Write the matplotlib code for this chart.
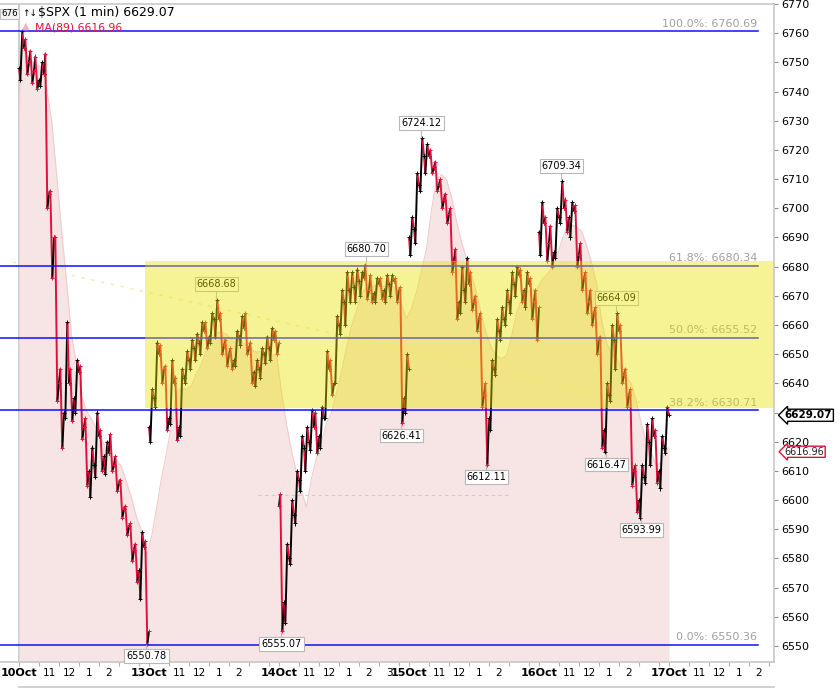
import numpy as np
import pandas as pd
import matplotlib
matplotlib.use("Agg")
import matplotlib.pyplot as plt
import matplotlib.transforms as mtransforms
from matplotlib.collections import LineCollection
from matplotlib.patches import Rectangle
from matplotlib.lines import Line2D

# ---------------- data ----------------
symbol = "$SPX (1 min)"
days = ["10Oct", "13Oct", "14Oct", "15Oct", "16Oct", "17Oct"]
hour_labels = ["11", "12", "1", "2"]
day_open = [6748, 6625, 6598, 6690, 6692]

# 15-minute OHLC summaries of the 1-minute bars, one list per session
high_d0 = [6760.69, 6758, 6754, 6752, 6750, 6753, 6706, 6690, 6645, 6661, 6645, 6648, 6646,
           6628, 6618, 6630, 6624, 6620, 6622.6, 6615, 6607, 6598, 6592, 6585, 6589, 6586]
low_d0 = [6744, 6746, 6743, 6741, 6742, 6700, 6676, 6634, 6617.8, 6628, 6627, 6630, 6621,
          6605, 6601, 6608, 6610, 6609, 6610, 6603, 6594, 6588, 6579, 6572, 6566, 6550.78]
close_d0 = [6755, 6750, 6747, 6744, 6746, 6705, 6690, 6640, 6630, 6640, 6635, 6644, 6625,
            6610, 6612, 6622, 6615, 6616, 6612, 6606, 6597, 6591, 6583, 6576, 6584, 6555]

high_d1 = [6638, 6654, 6653, 6646, 6648, 6642, 6645, 6651, 6655, 6657, 6661, 6661, 6664,
           6668.68, 6664, 6655, 6652, 6658, 6663, 6664, 6654, 6648, 6652, 6656, 6659, 6658]
low_d1 = [6620, 6632, 6640, 6624, 6626, 6620.5, 6622, 6640, 6645, 6648, 6650, 6652, 6654,
          6656, 6650, 6646, 6645, 6646, 6653, 6650, 6640, 6639, 6642, 6647, 6648, 6650]
close_d1 = [6635, 6650, 6645, 6628, 6640, 6625, 6642, 6648, 6652, 6654, 6658, 6656, 6662,
            6662, 6653, 6650, 6648, 6656, 6659, 6652, 6644, 6645, 6650, 6652, 6655, 6654]

high_d2 = [6602, 6585, 6600, 6610, 6622, 6625, 6631, 6630, 6632, 6651, 6648, 6663, 6672,
           6678, 6678, 6679, 6678, 6680.70, 6677, 6676, 6676, 6677, 6677, 6676, 6673, 6650]
low_d2 = [6555.07, 6558, 6578, 6592, 6603, 6610, 6617, 6616, 6618, 6628, 6636, 6640, 6657,
          6660, 6668, 6668, 6670, 6669, 6668, 6668, 6669, 6668, 6670, 6668, 6626.41, 6630]
close_d2 = [6565, 6580, 6595, 6607, 6618, 6620, 6625, 6622, 6628, 6645, 6640, 6660, 6668,
            6672, 6673, 6675, 6676, 6672, 6671, 6674, 6672, 6674, 6675, 6672, 6635, 6645]

high_d3 = [6697, 6712, 6724.12, 6722, 6720, 6716, 6710, 6705, 6700, 6686, 6680, 6683, 6678,
           6670, 6664, 6640, 6648, 6662, 6666, 6672, 6678, 6680, 6679, 6678, 6676, 6672]
low_d3 = [6684, 6688, 6706, 6712, 6712, 6706, 6700, 6695, 6678, 6662, 6664, 6668, 6665,
          6658, 6632, 6612.11, 6624, 6643, 6655, 6660, 6664, 6670, 6668, 6666, 6662, 6655]
close_d3 = [6693, 6708, 6718, 6718, 6714, 6708, 6703, 6698, 6682, 6668, 6672, 6674, 6668,
            6662, 6636, 6628, 6645, 6658, 6662, 6668, 6674, 6677, 6672, 6674, 6668, 6666]

high_d4 = [6702, 6697, 6694, 6700, 6709.34, 6703, 6702, 6701, 6688, 6678, 6672, 6666, 6656,
           6640, 6660, 6664.09, 6660, 6645, 6638, 6612, 6612, 6626, 6628, 6624, 6622, 6632]
low_d4 = [6684, 6682, 6680, 6683, 6695, 6692, 6690, 6680, 6672, 6664, 6660, 6650, 6618,
          6616.47, 6634, 6645, 6640, 6632, 6605, 6596, 6593.99, 6606, 6612, 6606, 6604, 6616]
close_d4 = [6695, 6688, 6685, 6697, 6700, 6697, 6699, 6684, 6676, 6668, 6664, 6655, 6624,
            6636, 6655, 6658, 6643, 6636, 6610, 6600, 6608, 6620, 6622, 6610, 6618, 6629.07]

fib_pct = ["100.0%", "61.8%", "50.0%", "38.2%", "0.0%"]
fib_val = [6760.69, 6680.34, 6655.52, 6630.71, 6550.36]
zone_low, zone_high = 6631.5, 6682.0
trend_start, trend_end = 6681.5, 6633.6
dash_level = 6601.7
last_price = 6629.07
ma_period = 89
ma_last = 6616.96
swing_vals = [6550.78, 6555.07, 6626.41, 6612.11, 6616.47, 6593.99,
              6668.68, 6680.70, 6724.12, 6709.34, 6664.09]
swing_kind = ["L", "L", "L", "L", "L", "L", "H", "H", "H", "H", "H"]
y_ticks = list(range(6550, 6771, 10))

# ---------------- assemble ----------------
highs = [high_d0, high_d1, high_d2, high_d3, high_d4]
lows = [low_d0, low_d1, low_d2, low_d3, low_d4]
closes = [close_d0, close_d1, close_d2, close_d3, close_d4]
DAY = 390
BAR = 15

RED = "#e0103c"
BLACK = "#000000"

W, H = 840, 691
fig = plt.figure(figsize=(W / 100, H / 100), dpi=100)
ax = fig.add_axes([0, 29 / H, 774 / W, (662 - 4) / H])
X0, X1 = -57, 2265
Y0, Y1 = 6544.52, 6769.93
ax.set_xlim(X0, X1)
ax.set_ylim(Y0, Y1)

def P(x, y):
    return x / W, 1 - y / H

# price bars
segs, cols, vx, vy, vc = [], [], [], [], []
bar_x, bar_c, bar_h, bar_l = [], [], [], []
for d in range(5):
    o = day_open[d]
    for i, (h, l, c) in enumerate(zip(highs[d], lows[d], closes[d])):
        m0 = d * DAY + i * BAR
        if c >= o:
            pts = [(m0, o), (m0 + 4, l), (m0 + 10, h), (m0 + 15, c)]
        else:
            pts = [(m0, o), (m0 + 4, h), (m0 + 10, l), (m0 + 15, c)]
        for a, b in zip(pts[:-1], pts[1:]):
            segs.append([a, b])
            cols.append(BLACK if b[1] >= a[1] else RED)
        for p in pts:
            vx.append(p[0]); vy.append(p[1])
            vc.append(BLACK if c >= o else RED)
        bar_x.append(m0 + 7.5); bar_c.append(c); bar_h.append(h); bar_l.append(l)
        o = c
bar_x = np.array(bar_x); bar_h = np.array(bar_h); bar_l = np.array(bar_l)

# moving average (period 89 minutes ~ 6 fifteen-minute bars)
ma = pd.Series(bar_c).rolling(round(ma_period / BAR), min_periods=1).mean().values
ma_x = np.concatenate([[0], bar_x, [bar_x[-1] + 7.5]])
ma_y = np.concatenate([[ma[0] - 25], ma, [ma[-1]]])
ax.fill_between(ma_x, Y0, ma_y, color="#f7e4e4", lw=0, zorder=1)
ax.plot(ma_x, ma_y, color="#f2cccc", lw=0.8, zorder=1.2)

# helper guides
ax.plot([(258 - 19) * 3, (510 - 19) * 3], [dash_level, dash_level], color="#d9c6c6",
        lw=0.8, ls=(0, (3, 3)), zorder=1.5)
ax.plot([-18, 1863], [trend_start, trend_end], color="#f3f0b8", lw=1.2,
        ls=(0, (2, 4)), zorder=1.5)

ax.add_collection(LineCollection(segs, colors=cols, linewidths=1.4, zorder=3))
ax.scatter(vx, vy, marker="+", s=9, c=vc, linewidths=0.7, zorder=3)

# fib levels
for pct, v in zip(fib_pct, fib_val):
    ax.plot([X0, 2217], [v, v], color="#1010ff", lw=1.1, zorder=4)
    ax.text(2214, v + 0.9, f"{pct}: {v:.2f}", ha="right", va="bottom", fontsize=8,
            color="#a0a0a0", zorder=4)

# swing labels
for v, k in zip(swing_vals, swing_kind):
    arr = bar_h if k == "H" else bar_l
    j = int(np.argmin(np.abs(arr - v)))
    off = 11 if k == "H" else -9
    ax.annotate(f"{v:.2f}", xy=(bar_x[j], v), xytext=(0, off), textcoords="offset points",
                ha="center", va="center", fontsize=7, color="black", zorder=4.5,
                bbox=dict(boxstyle="square,pad=0.2", fc="white", ec="#b8b8b8", lw=0.8),
                arrowprops=dict(arrowstyle="-", color="#b8b8b8", lw=0.8, shrinkA=0, shrinkB=1))

# yellow zone on top
ax.add_patch(Rectangle((378, zone_low), X1 - 378, zone_high - zone_low, facecolor="#e8e400",
                       alpha=0.42, lw=0, zorder=5))

# left session line
ax.axvline(0, color="#c4c4c4", lw=1.2, zorder=0.5)

# axes styling
for s in ["top", "right", "bottom"]:
    ax.spines[s].set_color("#c8c8c8")
    ax.spines[s].set_linewidth(1.2)
ax.spines["left"].set_visible(False)
ax.yaxis.tick_right()
ax.set_yticks(y_ticks)
# the 6630 label sits under the last-price tag in the reference
ax.set_yticklabels(["" if t == 6630 else str(t) for t in y_ticks])
ax.tick_params(axis="y", which="major", length=3, color="#909090", labelsize=8, pad=2)

ax.xaxis.remove_overlapping_locs = False
tick_pos = [d * DAY + k * 60 for d in range(len(days)) for k in range(7) if d * DAY + k * 60 < X1]
lab_pos, lab_txt = [], []
for d, name in enumerate(days):
    lab_pos.append(d * DAY); lab_txt.append(name)
    for k, hl in enumerate(hour_labels):
        lab_pos.append(d * DAY + 90 + 60 * k); lab_txt.append(hl)
    if name == "14Oct":
        lab_pos.append(d * DAY + 330); lab_txt.append("3")
ax.set_xticks(tick_pos)
ax.set_xticklabels([""] * len(tick_pos))
ax.set_xticks(lab_pos, minor=True)
ax.set_xticklabels(lab_txt, minor=True)
ax.tick_params(axis="x", which="major", length=3, color="#b0b0b0")
ax.tick_params(axis="x", which="minor", length=0, labelsize=7.5, pad=4.5)
for t in ax.xaxis.get_minorticklabels():
    if t.get_text().endswith("Oct"):
        t.set_fontweight("bold")
        t.set_fontsize(8)

# right price tags
tr = mtransforms.blended_transform_factory(ax.transAxes, ax.transData)
ax.text(1.014, last_price, f"{last_price:.2f}", transform=tr, fontsize=7.5, fontweight="bold",
        va="center", ha="left", clip_on=False, zorder=10,
        bbox=dict(boxstyle="larrow,pad=0.1", fc="white", ec="black", lw=1))
ax.text(1.014, ma_last - 0.4, f"{ma_last:.2f}", transform=tr, fontsize=7, color="#222222",
        va="center", ha="left", clip_on=False, zorder=10,
        bbox=dict(boxstyle="larrow,pad=0.06", fc="white", ec=RED, lw=1))

# header texts
fig.text(*P(1, 14), "676", fontsize=6.3, va="center", ha="left",
         bbox=dict(boxstyle="square,pad=0.1", fc="#f4f4f4", ec="#c0c0c0", lw=0.8))
fig.text(*P(22, 13), "\u2191\u2193", fontsize=6.5, va="center", ha="left")
fig.text(*P(38, 13), f"{symbol} {last_price:.2f}", fontsize=9, va="center", ha="left")
fig.text(*P(22, 26), "\u25b2", fontsize=7, va="center", ha="left", color="#f0b4bc")
fig.text(*P(35, 27), f"MA({ma_period}) {ma_last:.2f}", fontsize=7.8, va="center", ha="left",
         color=RED)

fig.add_artist(Line2D([19 / W, 774 / W], [1 - 687 / H] * 2, color="#c8c8c8", lw=1.2))

fig.savefig("out.png", dpi=100)
